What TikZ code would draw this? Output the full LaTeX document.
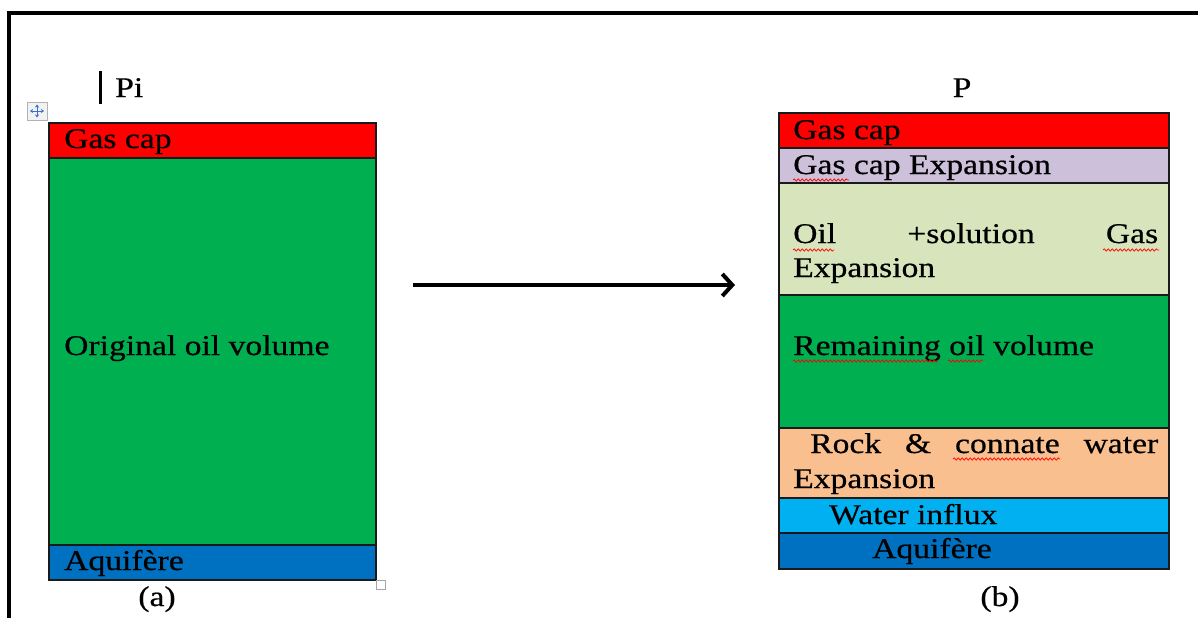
\documentclass[tikz,border=0pt]{standalone}
\usepackage{fontspec}
\setmainfont{Liberation Serif}[FakeStretch=1.18,FakeBold=0.6]
\usetikzlibrary{arrows.meta,decorations.pathmorphing}
\definecolor{gasred}{HTML}{FF0000}
\definecolor{oilgreen}{HTML}{00B050}
\definecolor{gasexp}{HTML}{CCC0DA}
\definecolor{oilexp}{HTML}{D8E4BC}
\definecolor{rockexp}{HTML}{FABF8F}
\definecolor{influx}{HTML}{00B0F0}
\definecolor{aquif}{HTML}{0070C0}
\definecolor{boxline}{HTML}{1A1A1A}
\definecolor{iconblue}{HTML}{3A6FD0}
\tikzset{
  layer/.style={draw=boxline,line width=1.3pt},
  lbl/.style={anchor=base west,inner sep=0pt,font=\fontsize{28.5}{34}\selectfont},
  clbl/.style={anchor=base,inner sep=0pt,font=\fontsize{28.5}{34}\selectfont},
  squig/.style={draw=red,line width=0.7pt,decorate,decoration={snake,amplitude=1.2pt,segment length=4pt}},
  iconarr/.style={{Stealth[length=3pt,width=4pt]}-{Stealth[length=3pt,width=4pt]},draw=iconblue,fill=iconblue,line width=1pt},
}
\begin{document}
\begin{tikzpicture}[x=1pt,y=-1pt]
\useasboundingbox (0,0) rectangle (1198,618);
\fill[white] (0,0) rectangle (1198,618);
% frame
\draw[line width=3.5pt] (9,618) -- (9,13) -- (1198,13);
% left column
\filldraw[layer,fill=gasred] (49,123) rectangle (376,158);
\filldraw[layer,fill=oilgreen] (49,158) rectangle (376,545);
\filldraw[layer,fill=aquif] (49,545) rectangle (376,580);
\node[lbl] (lgas) at (64,148) {Gas cap};
\node[lbl] (loil) at (64,355) {Original oil volume};
\node[lbl] (laq) at (64,570) {Aquifère};
\node[clbl] (la) at (157,606) {(a)};
\node[lbl] (pi) at (115,97) {Pi};
\draw[line width=3pt] (100,71) -- (100,104);
% move icon
\filldraw[draw=gray!60,fill=gray!10,line width=0.8pt] (27,102) rectangle (47,120);
\draw[iconarr] (30,111) -- (44,111);
\draw[iconarr] (37,104.5) -- (37,117.5);
% resize handle
\filldraw[draw=gray!70,fill=white,line width=0.8pt] (376,580) rectangle (385,589);
% right column
\filldraw[layer,fill=gasred] (779,113) rectangle (1169,148);
\filldraw[layer,fill=gasexp] (779,148) rectangle (1169,183);
\filldraw[layer,fill=oilexp] (779,183) rectangle (1169,295);
\filldraw[layer,fill=oilgreen] (779,295) rectangle (1169,428);
\filldraw[layer,fill=rockexp] (779,428) rectangle (1169,498);
\filldraw[layer,fill=influx] (779,498) rectangle (1169,533);
\filldraw[layer,fill=aquif] (779,533) rectangle (1169,569);
\node[lbl] (rgas) at (793,139) {Gas cap};
\node[lbl] (rgasexp) at (793,174) {Gas cap Expansion};
\node[lbl] (roil1) at (793,243) {\makebox[365pt][s]{Oil\hfill +solution\hfill Gas}};
\node[lbl] (roil2) at (793,277) {Expansion};
\node[lbl] (rrem) at (793,355) {Remaining oil volume};
\node[lbl] (rrock1) at (810,453) {\makebox[348pt][s]{Rock\hfill \&\hfill connate\hfill water}};
\node[lbl] (rrock2) at (793,488) {Expansion};
\node[lbl] (rinf) at (829,524) {Water influx};
\node[lbl] (raq) at (872,558) {Aquifère};
\node[clbl] (rb) at (1000,606) {(b)};
\node[clbl] (rp) at (962,97) {P};
% spell-check squiggles
\draw[squig] (793,180) -- (849,180);
\draw[squig] (793,250) -- (834,250);
\draw[squig] (1103,250) -- (1159,250);
\draw[squig] (793,361) -- (938,361);
\draw[squig] (948,361) -- (983,361);
\draw[squig] (953,459) -- (1060,459);
% arrow
\coordinate (arrS) at (413,285);
\coordinate (arrE) at (735,285);
\draw[line width=4pt,-{Straight Barb[length=10pt,width=22pt,line width=4pt]}] (arrS) -- (arrE);
\end{tikzpicture}
\end{document}
